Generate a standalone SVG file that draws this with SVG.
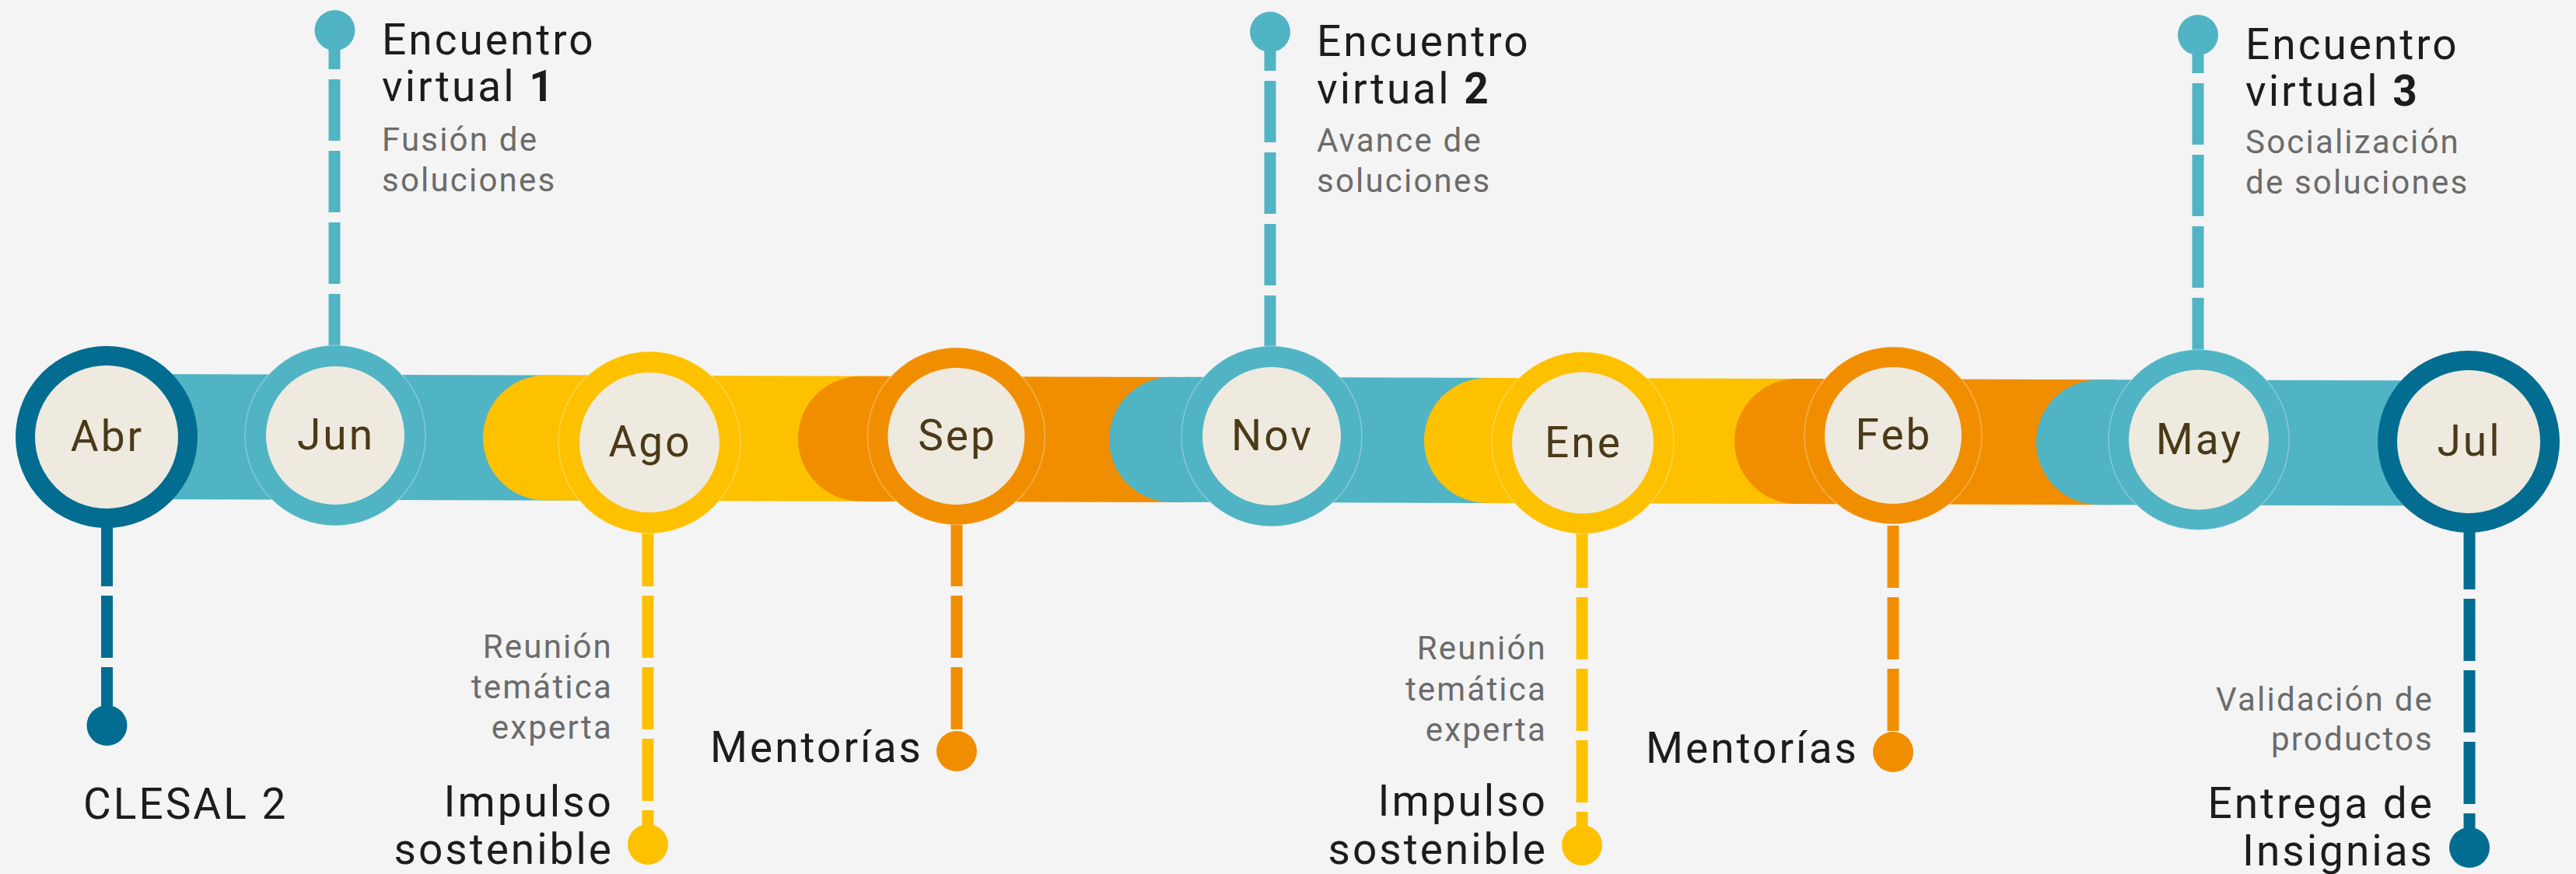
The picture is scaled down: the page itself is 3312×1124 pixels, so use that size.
<svg xmlns="http://www.w3.org/2000/svg" width="3312" height="1124" viewBox="0 0 3312 1124">
<defs>
<style>
text{font-family:Roboto,"Liberation Sans",sans-serif;}
.m{font-size:55px;letter-spacing:3px;fill:#4a3a18;text-anchor:middle;}
.t{font-size:55px;letter-spacing:3px;fill:#1c1c1c;}
.s{font-size:42px;letter-spacing:2.2px;fill:#6b6b6b;}
.e{text-anchor:end;}
.b{font-weight:700;}
.ring{stroke:#ffffff;stroke-opacity:0.3;stroke-width:1.5;}
.inner{fill:#eeeadf;}
.stem{fill:none;stroke-width:15;}
.down{stroke-dasharray:80 12;}
.up{stroke-dasharray:79 13;}
.dk{stroke:#036d91;} .tl{stroke:#50b4c4;} .yl{stroke:#fdc100;} .or{stroke:#f18e00;}
</style>
</defs>
<rect width="3312" height="1124" fill="#f4f4f4"/>

<g id="band" transform="rotate(0.16 137 561)">
<rect x="137" y="481" width="623" height="161" fill="#50b4c4"/>
<path d="M701.5,481 H1140 V642 H701.5 A80.5,80.5 0 0 1 701.5,481 Z" fill="#fdc100"/>
<path d="M1106.5,481 H1530 V642 H1106.5 A80.5,80.5 0 0 1 1106.5,481 Z" fill="#f18e00"/>
<path d="M1506.5,481 H1930 V642 H1506.5 A80.5,80.5 0 0 1 1506.5,481 Z" fill="#50b4c4"/>
<path d="M1911.5,481 H2330 V642 H1911.5 A80.5,80.5 0 0 1 1911.5,481 Z" fill="#fdc100"/>
<path d="M2310.5,481 H2720 V642 H2310.5 A80.5,80.5 0 0 1 2310.5,481 Z" fill="#f18e00"/>
<path d="M2698.5,481 H3174 V642 H2698.5 A80.5,80.5 0 0 1 2698.5,481 Z" fill="#50b4c4"/>
</g>

<g id="connectors">
<path class="stem down dk" d="M137.5,674 V933"/>
<circle cx="137.5" cy="933" r="26" fill="#036d91"/>
<path class="stem up tl" d="M430,457 V39"/>
<circle cx="430.5" cy="39" r="26" fill="#50b4c4"/>
<path class="stem down yl" d="M833,674 V1086"/>
<circle cx="833" cy="1086" r="26" fill="#fdc100"/>
<path class="stem down or" d="M1230,674 V966"/>
<circle cx="1230" cy="966" r="26" fill="#f18e00"/>
<path class="stem up tl" d="M1633,459 V41"/>
<circle cx="1633" cy="41" r="26" fill="#50b4c4"/>
<path class="stem down yl" d="M2034,676 V1087"/>
<circle cx="2034" cy="1087" r="26" fill="#fdc100"/>
<path class="stem down or" d="M2434,676 V967"/>
<circle cx="2434" cy="967" r="26" fill="#f18e00"/>
<path class="stem up tl" d="M2826,462 V45"/>
<circle cx="2826" cy="45" r="26" fill="#50b4c4"/>
<path class="stem down dk" d="M3175,678 V1090"/>
<circle cx="3175" cy="1090" r="26" fill="#036d91"/>
</g>

<g id="node-abr">
<circle cx="137" cy="562" r="117" fill="#036d91"/>
<circle class="inner" cx="137" cy="562" r="92"/>
<text class="m" x="138" y="580">Abr</text>
<text class="t" x="107" y="1053">CLESAL 2</text>
</g>

<g id="node-jun">
<circle class="ring" cx="431" cy="560" r="116" fill="#50b4c4"/>
<circle class="inner" cx="431" cy="560" r="89"/>
<text class="m" x="432" y="578">Jun</text>
<text class="t" x="491" y="69.5">Encuentro</text>
<text class="t" x="491" y="130">virtual <tspan class="b">1</tspan></text>
<text class="s" x="491" y="193.5">Fusión de</text>
<text class="s" x="491" y="246">soluciones</text>
</g>

<g id="node-ago">
<circle class="ring" cx="835" cy="569" r="117" fill="#fdc100"/>
<circle class="inner" cx="835" cy="569" r="90"/>
<text class="m" x="836" y="587">Ago</text>
<text class="s e" x="788" y="846">Reunión</text>
<text class="s e" x="788" y="898">temática</text>
<text class="s e" x="788" y="950">experta</text>
<text class="t e" x="789" y="1050">Impulso</text>
<text class="t e" x="789" y="1111">sostenible</text>
</g>

<g id="node-sep">
<circle class="ring" cx="1229.5" cy="561" r="114" fill="#f18e00"/>
<circle class="inner" cx="1229.5" cy="561" r="88"/>
<text class="m" x="1231" y="579">Sep</text>
<text class="t e" x="1187" y="980">Mentorías</text>
</g>

<g id="node-nov">
<circle class="ring" cx="1635" cy="561" r="116" fill="#50b4c4"/>
<circle class="inner" cx="1635" cy="561" r="89"/>
<text class="m" x="1636" y="579">Nov</text>
<text class="t" x="1693" y="71.5">Encuentro</text>
<text class="t" x="1693" y="133">virtual <tspan class="b">2</tspan></text>
<text class="s" x="1693" y="194.5">Avance de</text>
<text class="s" x="1693" y="246.5">soluciones</text>
</g>

<g id="node-ene">
<circle class="ring" cx="2035" cy="569.5" r="117" fill="#fdc100"/>
<circle class="inner" cx="2035" cy="569.5" r="91"/>
<text class="m" x="2036" y="588">Ene</text>
<text class="s e" x="1989" y="848">Reunión</text>
<text class="s e" x="1989" y="900.5">temática</text>
<text class="s e" x="1989" y="953">experta</text>
<text class="t e" x="1990" y="1049">Impulso</text>
<text class="t e" x="1990" y="1111">sostenible</text>
</g>

<g id="node-feb">
<circle class="ring" cx="2434" cy="560" r="114" fill="#f18e00"/>
<circle class="inner" cx="2434" cy="560" r="88"/>
<text class="m" x="2435" y="578">Feb</text>
<text class="t e" x="2390" y="981">Mentorías</text>
</g>

<g id="node-may">
<circle class="ring" cx="2827" cy="565.5" r="116" fill="#50b4c4"/>
<circle class="inner" cx="2827" cy="565.5" r="90"/>
<text class="m" x="2828" y="584">May</text>
<text class="t" x="2887" y="76">Encuentro</text>
<text class="t" x="2887" y="136">virtual <tspan class="b">3</tspan></text>
<text class="s" x="2887" y="197">Socialización</text>
<text class="s" x="2887" y="249">de soluciones</text>
</g>

<g id="node-jul">
<circle cx="3174" cy="568" r="117" fill="#036d91"/>
<circle class="inner" cx="3174" cy="568" r="92"/>
<text class="m" x="3175" y="586">Jul</text>
<text class="s e" x="3129" y="914">Validación de</text>
<text class="s e" x="3129" y="965">productos</text>
<text class="t e" x="3130" y="1052">Entrega de</text>
<text class="t e" x="3130" y="1113">Insignias</text>
</g>
</svg>
